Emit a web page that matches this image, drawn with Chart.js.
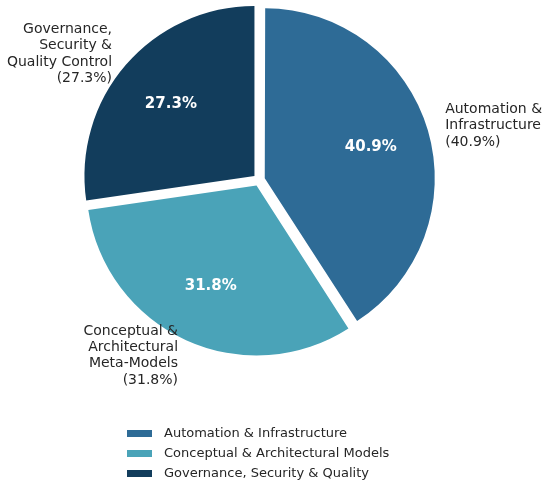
<!DOCTYPE html>
<html>
<head>
<meta charset="utf-8">
<script src="https://cdn.jsdelivr.net/npm/chart.js@4.4.1/dist/chart.umd.min.js"></script>
<style>
  html, body { margin: 0; padding: 0; background: #ffffff; }
  #wrap { width: 550px; height: 486px; position: relative; }
</style>
</head>
<body>
<div id="wrap"><canvas id="c" width="550" height="486"></canvas></div>
<script>
// ---- Data ----
const categories = ["Automation & Infrastructure", "Conceptual & Architectural Models", "Governance, Security & Quality"];
const outerLabels = [
  ["Automation &", "Infrastructure", "(40.9%)"],
  ["Conceptual &", "Architectural", "Meta-Models", "(31.8%)"],
  ["Governance,", "Security &", "Quality Control", "(27.3%)"]
];
const shares = [40.9, 31.8, 27.3];
const colors = ["#2E6B96", "#4AA3B8", "#123D5C"];

const FONT = "'DejaVu Sans', sans-serif";
const EXPLODE_PX = 6;

// Chart.js v4 arcs translate by offset/4 and grow the radius by offset/4*(1-sin(circ));
// compensate the radius growth so every wedge keeps the same radius.
const radiusFix = {
  id: 'radiusFix',
  beforeDatasetsDraw(chart) {
    const meta = chart.getDatasetMeta(0);
    const R = meta.controller.outerRadius;
    meta.data.forEach(arc => {
      const circ = arc.circumference;
      const fix = 1 - Math.sin(Math.min(Math.PI, circ));
      arc.outerRadius = R - EXPLODE_PX * fix;
    });
  }
};

const labelPlugin = {
  id: 'pieLabels',
  afterDatasetsDraw(chart) {
    const ctx = chart.ctx;
    const meta = chart.getDatasetMeta(0);
    const R = meta.controller.outerRadius;
    const total = shares.reduce((a, b) => a + b, 0);
    ctx.save();
    meta.data.forEach((arc, i) => {
      const off = EXPLODE_PX;
      const mid = (arc.startAngle + arc.endAngle) / 2;
      const cx = Math.cos(mid), cy = Math.sin(mid);
      const px = arc.x + cx * (off + 0.65 * R);
      const py = arc.y + cy * (off + 0.65 * R);
      ctx.font = "bold 15px " + FONT;
      ctx.fillStyle = "#ffffff";
      ctx.textAlign = "center";
      ctx.textBaseline = "middle";
      ctx.fillText((shares[i] / total * 100).toFixed(1) + "%", px, py);
      const lx = arc.x + cx * (off + 1.1 * R) + (cx >= 0 ? 1 : -1);
      const ly = arc.y + cy * (off + 1.1 * R);
      const lines = outerLabels[i];
      const lh = 16.3;
      ctx.font = "14px " + FONT;
      ctx.fillStyle = "#262626";
      ctx.textAlign = cx >= 0 ? "left" : "right";
      const startY = ly - (lines.length - 1) * lh / 2;
      lines.forEach((t, j) => ctx.fillText(t, lx, startY + j * lh));
    });
    // legend
    const lx0 = 127, bw = 25, bh = 7, rowY = [433.5, 453.5, 473.5];
    ctx.font = "13px " + FONT;
    ctx.textAlign = "left";
    ctx.textBaseline = "middle";
    categories.forEach((c, i) => {
      ctx.fillStyle = colors[i];
      ctx.fillRect(lx0, rowY[i] - bh / 2, bw, bh);
      ctx.fillStyle = "#262626";
      ctx.fillText(c, 164, rowY[i] + 0.5);
    });
    ctx.restore();
  }
};

new Chart(document.getElementById('c'), {
  type: 'pie',
  data: {
    labels: categories,
    datasets: [{
      data: shares,
      backgroundColor: colors,
      borderWidth: 0,
      offset: EXPLODE_PX * 4,
      hoverOffset: 0,
      clip: false
    }]
  },
  options: {
    responsive: false,
    animation: false,
    radius: 170,
    layout: { padding: { left: 0, right: 32, top: 0, bottom: 126 } },
    plugins: {
      legend: { display: false },
      tooltip: { enabled: false }
    },
    events: []
  },
  plugins: [radiusFix, labelPlugin]
});
</script>
</body>
</html>
